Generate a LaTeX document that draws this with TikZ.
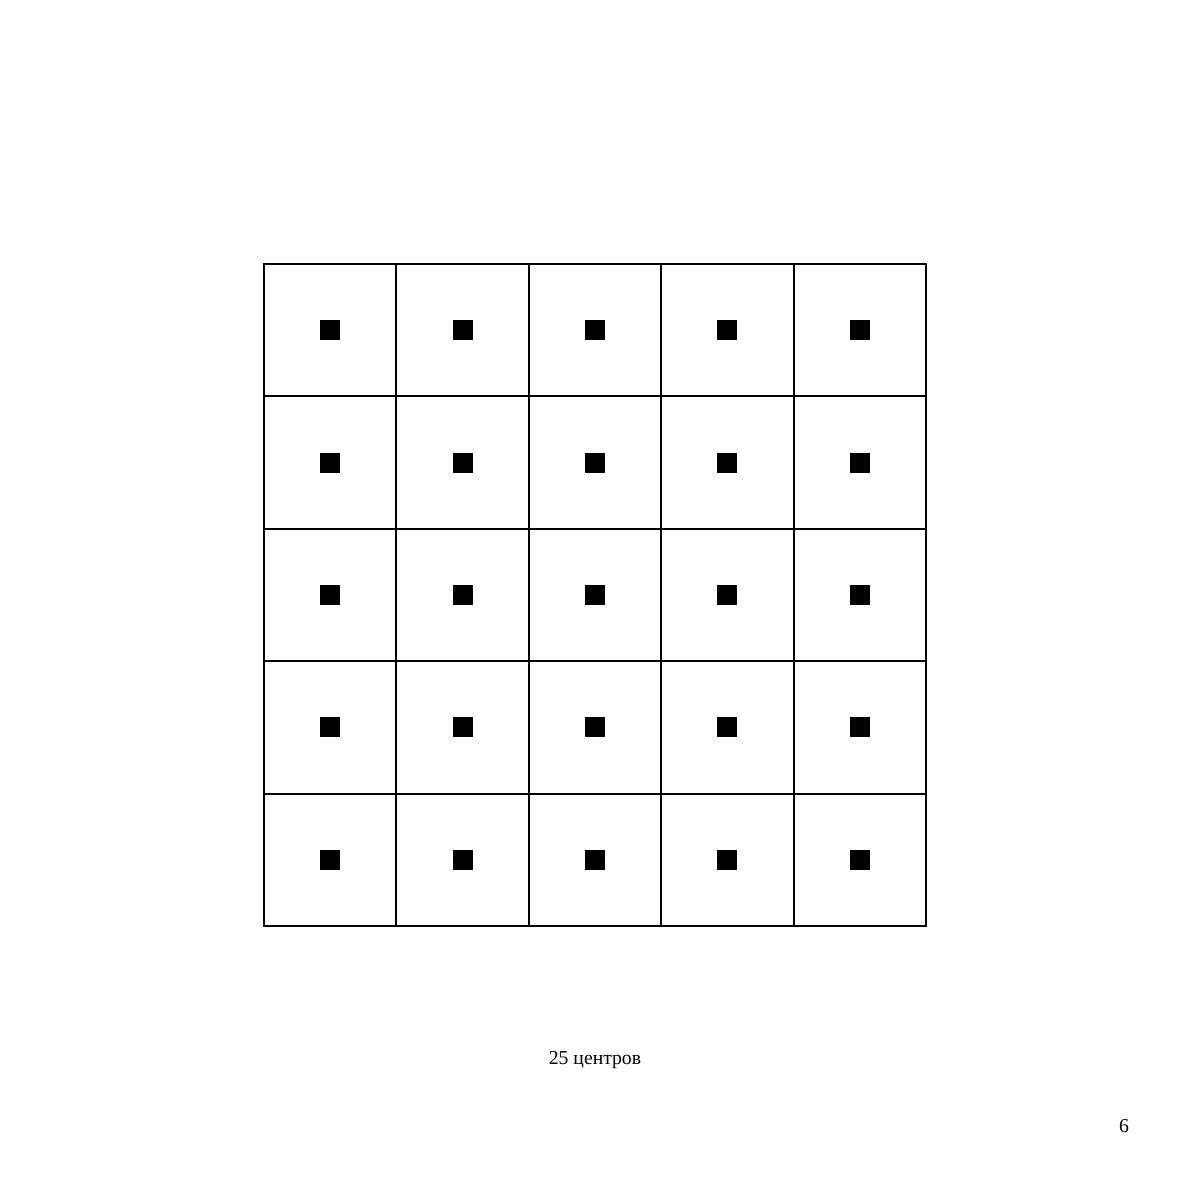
\documentclass[tikz,border=0pt]{standalone}
\usepackage{fontspec}
\setmainfont{Liberation Serif}
\usetikzlibrary{positioning}

\begin{document}
\begin{tikzpicture}[
    x=0.01cm, y=-0.01cm,
    cell/.style={rectangle, draw, line width=0.5pt, minimum size=1.324cm, inner sep=0pt, outer sep=0pt},
    center/.style={rectangle, fill=black, minimum size=0.2cm, inner sep=0pt},
    caption/.style={font=\fontsize{5.6}{6.5}\selectfont},
]
\useasboundingbox (0,0) rectangle (1191,1191);

% 5x5 cells, each with its centre marked
\foreach \i in {1,...,5}{
  \foreach \j in {1,...,5}{
    \node[cell] (cell-\i-\j) at ({264+(\j-0.5)*132.4}, {264+(\i-0.5)*132.4}) {};
    \node[center] (ctr-\i-\j) at (cell-\i-\j.center) {};
  }
}

\node[caption] (label) at (595,1060) {25 центров};
\node[caption] (page) at (1124,1126) {6};

\end{tikzpicture}
\end{document}
